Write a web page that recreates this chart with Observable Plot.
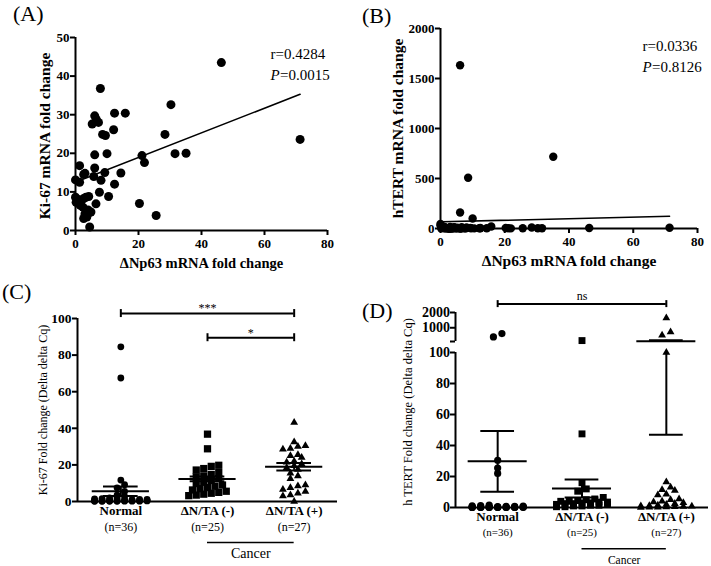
<!DOCTYPE html>
<html>
<head>
<meta charset="utf-8">
<script src="https://cdn.jsdelivr.net/npm/d3@7"></script>
<script src="https://cdn.jsdelivr.net/npm/@observablehq/plot@0.6"></script>
<style>
  body { margin: 0; background: #fff; }
  #fig { position: relative; width: 711px; height: 566px; background: #fff; overflow: hidden;
         font-family: "Liberation Serif", "Times New Roman", Times, serif; color: #000; }
  #fig svg, #fig svg text { font-family: "Liberation Serif", "Times New Roman", Times, serif !important; }
  .panel { position: absolute; }
  .tag { position: absolute; font-size: 22px; line-height: 1; white-space: nowrap; }
</style>
</head>
<body>
<div id="fig"></div>
<script>
// ------------------------------------------------------------------ DATA
// (A)/(B): 52 cancer samples — ΔNp63 fold change vs Ki-67 / hTERT fold change
const np63 = [46.3, 7.9, 30.3, 12.4, 15.8, 6.1, 6.6, 7.3, 5.3, 12.1, 8.6, 9.5, 28.4, 71.3, 6.1, 10.0, 21.1, 21.9, 31.6, 35.1, 6.1, 9.3, 14.4, 1.3, 5.8, 8.1, 0.0, 1.3, 2.6, 3.0, 12.4, 7.6, 10.5, 6.5, 20.3, 25.6, 4.5, 0.0, 0.2, 0.8, 1.8, 2.6, 3.3, 4.2, 1.5, 2.4, 3.0, 3.6, 4.3, 4.9, 2.6, 4.0];
const ki67 = [43.5, 36.8, 32.6, 30.4, 30.4, 29.7, 28.8, 28.0, 27.6, 26.1, 24.9, 24.6, 24.9, 23.6, 19.6, 19.9, 19.4, 17.6, 19.9, 20.0, 16.2, 15.0, 14.9, 16.8, 14.0, 13.0, 13.1, 12.5, 14.5, 14.8, 12.0, 9.9, 8.8, 6.9, 7.0, 3.9, 0.9, 8.6, 7.3, 8.0, 7.7, 8.3, 8.6, 8.8, 6.5, 6.0, 4.3, 3.5, 4.6, 4.8, 3.1, 5.3];
const htert = [5, 3, 2, 6, 20, 1633, 12, 4, 8, 3, 507, 2, 10, 8, 160, 100, 3, 1, 2, 717, 0.5, 6, 2, 15, 1, 11, 45, 5, 3, 16, 1, 2, 1.5, 0.5, 5, 2, 9, 30, 2, 4, 1, 0.5, 2, 13, 0.8, 1.2, 0.3, 0.5, 7, 0.2, 1, 2];
// fitted regression lines (end points)
const fitAx = [0.5, 71.3], fitAy = [12.7, 35.3];
const fitBx = [0.5, 71.3], fitBy = [67, 123];
const statR = ["0.4284", "0.0336"];
const statP = ["0.0015", "0.8126"];
const xTicksAB = [0, 20, 40, 60, 80];
const yTicksA = [0, 10, 20, 30, 40, 50];
const yTicksB = [0, 500, 1000, 1500, 2000];
const xTitleAB = "ΔNp63 mRNA fold change";
const yTitleA = "Ki-67 mRNA fold change";
const yTitleB = "hTERT mRNA fold change";

// (C)/(D): groups
const cats = ["Normal", "ΔN/TA (-)", "ΔN/TA (+)"];
const nLabels = ["(n=36)", "(n=25)", "(n=27)"];
const cancerGroups = ["ΔN/TA (-)", "ΔN/TA (+)"];
const cancerLabel = "Cancer";
// Ki-67 fold change
const kiNormal = [84.5, 67.5, 11.7, 9.2, 7.5, 5.5, 3.5, 2.8, 2.2, 1.9, 1.6, 1.4, 1.2, 1.1, 1.0, 0.9, 0.9, 0.8, 0.7, 0.7, 0.6, 0.6, 0.5, 0.5, 0.4, 0.4, 0.3, 0.3, 0.3, 0.2, 0.2, 0.2, 0.1, 0.1, 0.1, 0.1];
const kiNeg = [36.8, 28.8, 19.8, 19.2, 18.0, 17.2, 15.8, 14.8, 14.0, 13.5, 12.5, 11.5, 10.5, 9.8, 9.0, 8.3, 7.6, 7.0, 6.3, 5.6, 5.0, 4.5, 4.0, 3.5, 3.2];
const kiPos = [43.2, 32.5, 30.5, 30.0, 29.0, 28.5, 25.5, 25.0, 24.0, 22.0, 21.5, 20.5, 19.5, 18.5, 17.5, 15.5, 14.0, 12.5, 9.0, 8.5, 7.5, 6.5, 5.5, 4.5, 3.5, 3.0, 0.0];
const kiMean = [5.6, 12.3, 19.0];
const kiSem = [2.6, 1.3, 2.0];
const kiTicks = [0, 20, 40, 60, 80, 100];
const kiSigFrom = ["Normal", "ΔN/TA (-)"];
const kiSigTo = ["ΔN/TA (+)", "ΔN/TA (+)"];
const kiSigLevel = [102.7, 89.5];
const kiSigLabel = ["***", "*"];
const yTitleC = "Ki-67 Fold change (Delta delta Cq)";
// hTERT fold change
const teNormal = [620, 400, 30.5, 25.5, 22, 1.5, 1.2, 1.0, 0.9, 0.8, 0.7, 0.6, 0.5, 0.5, 0.4, 0.4, 0.3, 0.3, 0.3, 0.2, 0.2, 0.2, 0.2, 0.1, 0.1, 0.1, 0.1, 0.1, 0.1, 0.05, 0.05, 0.05, 0.05, 0.02, 0.02, 0.01];
const teNeg = [160, 47.5, 16, 12, 10.5, 6.5, 5.5, 5, 4.5, 4, 4, 3.5, 3.5, 3, 3, 2.5, 2.5, 2, 2, 1.5, 1.5, 1, 1, 0.5, 0.5];
const tePos = [1633, 717, 507, 100, 16.5, 13, 11.5, 11, 8.5, 8, 5.5, 5, 4, 3.5, 3, 2.5, 2, 1.5, 1.2, 1, 0.8, 0.6, 0.5, 0.3, 0.2, 0.1, 0];
const teMean = [29.8, 12.3, 115];
const teSem = [19.6, 5.8, 68];
const teBreak = [100, 100.001];
const teTicks = [0, 20, 40, 60, 80, 100, 1000, 2000];
const teSigFrom = ["Normal"];
const teSigTo = ["ΔN/TA (+)"];
const teSigLevel = [2550];
const teSigLabel = ["ns"];
const yTitleD = "h TERT Fold change (Delta delta Cq)";

// ------------------------------------------------------------------ HELPERS
const serif = '"Liberation Serif", "Times New Roman", Times, serif';
const fig = document.getElementById("fig");
const baseStyle = {fontFamily: serif, color: "black", background: "transparent", overflow: "visible"};
const fmt = d => String(d);
function mount(node, left, top) {
  const d = document.createElement("div");
  d.className = "panel"; d.style.left = left + "px"; d.style.top = top + "px";
  d.appendChild(node); fig.appendChild(d);
}
function tag(t, left, top) {
  const d = document.createElement("div");
  d.className = "tag"; d.textContent = t; d.style.left = left + "px"; d.style.top = top + "px";
  fig.appendChild(d);
}

const ptsAB = np63.map((x, i) => ({x, ki: ki67[i], te: htert[i]}));

function scatter(o) {
  return Plot.plot({
    width: o.W, height: o.H,
    marginLeft: o.ml, marginRight: o.mr, marginTop: o.mt, marginBottom: o.mb,
    style: baseStyle,
    x: {domain: [0, 80]},
    y: {domain: o.yDomain},
    marks: [
      Plot.ruleX([0], {strokeWidth: 2}),
      Plot.ruleY([0], {strokeWidth: 2}),
      Plot.axisX({ticks: xTicksAB, tickFormat: fmt, tickSize: 5, tickPadding: 3, strokeWidth: 2, fontWeight: "bold", fontSize: 13, label: null}),
      Plot.axisY({ticks: o.yTicks, tickFormat: fmt, tickSize: 5, tickPadding: 1, strokeWidth: 2, fontWeight: "bold", fontSize: 13, label: null}),
      Plot.line(o.fitX, {x: d => d, y: (d, i) => o.fitY[i], strokeWidth: 1.6}),
      Plot.dot(ptsAB, {x: "x", y: o.key, r: o.dotR, fill: "black"}),
      Plot.text([xTitleAB], {text: d => d, frameAnchor: "bottom", dy: 37, fontWeight: "bold", fontSize: o.xtFont}),
      Plot.text([o.yTitle], {text: d => d, frameAnchor: "left", textAnchor: "middle", rotate: -90, dx: o.ytDx, dy: o.ytDy, fontWeight: "bold", fontSize: 15.5}),
      Plot.text(["r=" + o.r], {text: d => d, frameAnchor: "top-right", textAnchor: "start", dx: o.sDx, dy: o.sDy, fontSize: 15}),
      Plot.text(["P"], {text: d => d, frameAnchor: "top-right", textAnchor: "start", dx: o.sDx, dy: o.sDy + 21, fontSize: 15, fontStyle: "italic"}),
      Plot.text(["=" + o.p], {text: d => d, frameAnchor: "top-right", textAnchor: "start", dx: o.sDx + 9.5, dy: o.sDy + 21, fontSize: 15})
    ]
  });
}

// GraphPad-like column scatter: points binned into rows (by pixel height),
// spread horizontally in a row, overlapping once the row is full.
function swarm(groups, ys, pxPerUnit, {rowH, step, maxHalf}) {
  const out = [];
  const slotsMax = Math.floor(2 * maxHalf / step) + 1;
  groups.forEach((vals, g) => {
    const items = vals.map(v => ({v, py: ys.apply(v)})).sort((a, b) => b.py - a.py);
    const rows = [];
    for (const it of items) {
      const row = rows[rows.length - 1];
      if (row && Math.abs(it.py - row[0].py) <= rowH) row.push(it); else rows.push([it]);
    }
    for (const row of rows) {
      const n = Math.min(row.length, slotsMax);
      row.forEach((it, k) => {
        const slot = k % n;
        out.push({g, v: it.v, x: g + (slot - (n - 1) / 2) * step / pxPerUnit});
      });
    }
  });
  return out;
}

const symbols = ["circle", "square", "triangle"];

function groupPanel(o) {
  const ys = Plot.scale({y: o.y});
  const kx = (o.W - o.ml - o.mr) / 3;
  const dots = swarm(o.groups, ys, kx, o.swarm);
  const stats = cats.map((c, g) => ({g, m: o.mean[g], lo: o.mean[g] - o.sem[g], hi: o.mean[g] + o.sem[g]}));
  const segs = [];
  for (const s of stats) {
    if (o.brk && s.lo < o.brk[0] && s.hi > o.brk[1]) {
      segs.push({g: s.g, a: s.lo, b: o.brk[0]}, {g: s.g, a: o.brk[1], b: s.hi});
    } else segs.push({g: s.g, a: s.lo, b: s.hi});
  }
  const caps = stats.flatMap(s => [{g: s.g, y: s.lo}, {g: s.g, y: s.hi}]);
  const sig = o.sigFrom.map((f, i) => ({a: cats.indexOf(f), b: cats.indexOf(o.sigTo[i]), level: o.sigLevel[i], label: o.sigLabel[i]}));
  const sigEnds = sig.flatMap(s => [{x: s.a, level: s.level}, {x: s.b, level: s.level}]);
  const shift = (v, px) => ys.invert(ys.apply(v) + px);
  const cA = cats.indexOf(cancerGroups[0]), cB = cats.indexOf(cancerGroups[1]);
  const dotMarks = symbols.map((sym, g) =>
    Plot.dot(dots.filter(d => d.g === g), {x: "x", y: "v", symbol: sym, r: o.symR[g], fill: "black"}));
  return Plot.plot({
    width: o.W, height: o.H,
    marginLeft: o.ml, marginRight: o.mr, marginTop: o.mt, marginBottom: o.mb,
    style: baseStyle,
    x: {type: "linear", domain: [-0.5, 2.5]},
    y: o.y,
    marks: [
      Plot.ruleY([0], {strokeWidth: 2}),
      Plot.ruleX(o.axisSegs, {x: () => -0.5, y1: d => d[0], y2: d => d[1], strokeWidth: 2}),
      Plot.axisY({ticks: o.ticks, tickFormat: o.tickFormat, tickSize: 5, tickPadding: o.tp, strokeWidth: 2, fontWeight: "bold", fontSize: o.tickFont, label: null}),
      Plot.axisX({ticks: [0, 1, 2], tickFormat: i => cats[i], tickSize: 0, tickPadding: o.catPad, fontWeight: "bold", fontSize: 13, label: null}),
      Plot.text(nLabels, {text: d => d, x: (d, i) => i, y: () => 0, dy: o.nDy, fontSize: o.nFont}),
      Plot.ruleY([0], {x1: () => cA, x2: () => cB, dy: o.cDy, strokeWidth: 1.6}),
      Plot.text([cancerLabel], {text: d => d, x: () => (cA + cB) / 2, y: () => 0, dy: o.cTextDy, fontSize: o.cFont}),
      ...dotMarks,
      Plot.ruleY(stats, {y: "m", x1: d => d.g - o.meanHalf, x2: d => d.g + o.meanHalf, strokeWidth: 2}),
      Plot.ruleX(segs, {x: "g", y1: "a", y2: "b", strokeWidth: 2}),
      Plot.ruleY(caps, {y: "y", x1: d => d.g - o.capHalf, x2: d => d.g + o.capHalf, strokeWidth: 2}),
      Plot.ruleY(sig, {y: "level", x1: "a", x2: "b", strokeWidth: 2}),
      Plot.ruleX(sigEnds, {x: "x", y1: d => shift(d.level, -o.sigTick), y2: d => shift(d.level, o.sigTick), strokeWidth: 2}),
      Plot.text(sig, {text: "label", x: d => (d.a + d.b) / 2, y: "level", dy: o.sigDy, fontSize: 12, fill: "black"}),
      Plot.text([o.yTitle], {text: d => d, frameAnchor: "left", textAnchor: "middle", rotate: -90, dx: o.ytDx, dy: o.ytDy, fontSize: o.ytFont})
    ]
  });
}

// ------------------------------------------------------------------ PANELS
mount(scatter({
  W: 355, H: 280, ml: 75, mr: 28, mt: 37, mb: 50,
  yDomain: [0, 50], yTicks: yTicksA, key: "ki", fitX: fitAx, fitY: fitAy, dotR: 4.5,
  yTitle: yTitleA, ytDx: -30, ytDy: 2, xtFont: 14.5,
  r: statR[0], p: statP[0], sDx: -57, sDy: 11
}), 0, 0);

mount(scatter({
  W: 356, H: 280, ml: 85, mr: 14, mt: 28, mb: 52,
  yDomain: [0, 2000], yTicks: yTicksB, key: "te", fitX: fitBx, fitY: fitBy, dotR: 4.2,
  yTitle: yTitleB, ytDx: -42, ytDy: 0, xtFont: 15.5,
  r: statR[1], p: statP[1], sDx: -55, sDy: 12
}), 355, 0);

{
  const W = 355, H = 286, ml = 77, mr = 18, mt = 38, mb = 65;
  mount(groupPanel({
    W, H, ml, mr, mt, mb,
    y: {type: "linear", domain: [0, 100], range: [H - mb, mt]},
    groups: [kiNormal, kiNeg, kiPos], mean: kiMean, sem: kiSem,
    swarm: {rowH: 5, step: 7.5, maxHalf: 27}, symR: [3.4, 4.1, 2.9],
    axisSegs: [[0, 100]], ticks: kiTicks, tickFormat: fmt, tp: 1, tickFont: 13.5,
    catPad: 4, nDy: 25.5, nFont: 12, cDy: 41, cTextDy: 52, cFont: 14,
    meanHalf: 0.33, capHalf: 0.2,
    sigFrom: kiSigFrom, sigTo: kiSigTo, sigLevel: kiSigLevel, sigLabel: kiSigLabel, sigTick: 4, sigDy: -5,
    yTitle: yTitleC, ytDx: -34, ytDy: 0, ytFont: 12
  }), 0, 280);
}

{
  const W = 356, H = 286, ml = 100, mr = 3, mt = 32, mb = 59, upperH = 29, gap = 11;
  mount(groupPanel({
    W, H, ml, mr, mt, mb,
    y: {type: "linear", domain: [0, teBreak[0], teBreak[1], 2000], range: [H - mb, mt + upperH + gap, mt + upperH, mt]},
    groups: [teNormal, teNeg, tePos], mean: teMean, sem: teSem, brk: teBreak,
    swarm: {rowH: 5, step: 8.5, maxHalf: 26}, symR: [3.6, 3.9, 2.9],
    axisSegs: [[0, teBreak[0]], [teBreak[1], 2000]],
    ticks: [...teTicks, teBreak[1]], tickFormat: d => d === teBreak[1] ? "" : String(d), tp: 0.5, tickFont: 14,
    catPad: 4, nDy: 25, nFont: 11, cDy: 41.3, cTextDy: 53, cFont: 11.5,
    meanHalf: 0.35, capHalf: 0.2,
    sigFrom: teSigFrom, sigTo: teSigTo, sigLevel: teSigLevel, sigLabel: teSigLabel, sigTick: 3.5, sigDy: -8,
    yTitle: yTitleD, ytDx: -48, ytDy: 2, ytFont: 12.5
  }), 355, 280);
}

tag("(A)", 13, 3);
tag("(B)", 362, 5);
tag("(C)", 2, 281);
tag("(D)", 362, 300);
</script>
</body>
</html>
